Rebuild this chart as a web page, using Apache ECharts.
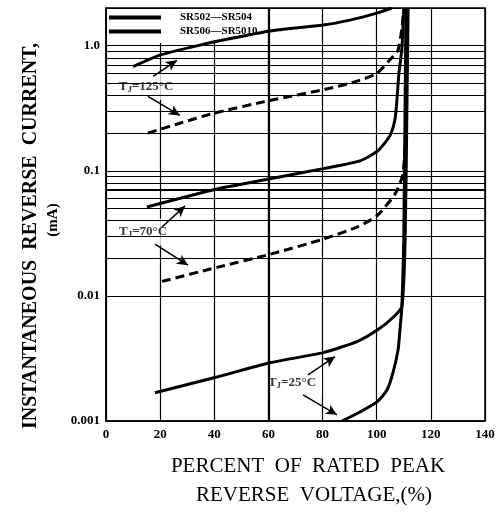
<!DOCTYPE html>
<html>
<head>
<meta charset="utf-8">
<script src="https://cdn.jsdelivr.net/npm/echarts@6/dist/echarts.min.js"></script>
<style>
html, body { margin: 0; padding: 0; background: #fff; }
#chart { width: 502px; height: 517px; }
</style>
</head>
<body>
<div id="chart"></div>
<script>
// reverse current vs. percent of rated reverse voltage (log scale)
var xTicks = [0, 20, 40, 60, 80, 100, 120, 140];
var yDecades = [0.001, 0.01, 0.1, 1];
var minorGrid = [0.002, 0.003, 0.004, 0.005, 0.006, 0.007, 0.008, 0.009,
	0.02, 0.03, 0.04, 0.05, 0.06, 0.07, 0.08, 0.09,
	0.2, 0.3, 0.4, 0.5, 0.6, 0.7, 0.8, 0.9];
var legendNames = ['SR502\u2014SR504', 'SR506\u2014SR5010'];

// Tj = 125 C
var solid125X = [10, 19.9, 34.7, 46.9, 60.6, 80.2, 90.1, 100, 105.5];
var solid125Y = [0.68, 0.84, 1.01, 1.15, 1.31, 1.46, 1.6, 1.82, 2.0];
var dash125X = [15.5, 27.3, 39.5, 60.6, 82.7, 92.7, 100, 106, 107.9, 109.3, 110];
var dash125Y = [0.2, 0.24, 0.287, 0.365, 0.456, 0.52, 0.6, 0.82, 0.92, 1.38, 2.0];
// Tj = 70 C
var solid70X = [15.1, 41, 60.6, 80.2, 93.8, 100.5, 104.9, 106.8, 107.5, 108.2, 109.3, 110];
var solid70Y = [0.0514, 0.0716, 0.0863, 0.104, 0.12, 0.145, 0.191, 0.262, 0.378, 0.6, 0.95, 2.0];
var dash70X = [20.7, 41, 60.6, 80.2, 92.7, 100, 106.8, 109.7, 110.8, 111.2];
var dash70Y = [0.01306, 0.0169, 0.0215, 0.0284, 0.0355, 0.0435, 0.0654, 0.0946, 0.262, 2.0];
// Tj = 25 C
var solid25X = [18.1, 41, 60.6, 80.2, 92.7, 100.5, 106, 109.3, 110.5, 111.2, 111.6];
var solid25Y = [0.00168, 0.00225, 0.00292, 0.00352, 0.00431, 0.00538, 0.00672, 0.00824, 0.0284, 0.378, 2.0];
var low25X = [87.2, 93.8, 100.1, 103.8, 106, 107.9, 108.6, 109.3, 110, 110.8];
var low25Y = [0.001, 0.00118, 0.00142, 0.00177, 0.00243, 0.00372, 0.00538, 0.00824, 0.0284, 2.0];

// annotation texts and arrows (data units)
var noteTemps = ['125', '70', '25'];
var noteX = [14.8, 13.7, 68.7];
var noteY = [0.473, 0.0324, 0.00202];
var arrows = [
	[17.4, 0.569, 26.2, 0.764],
	[15.5, 0.393, 27.3, 0.277],
	[20.7, 0.0355, 29.2, 0.0524],
	[18.1, 0.0259, 30.3, 0.0176],
	[74.6, 0.00234, 84.6, 0.00327],
	[72.8, 0.00162, 85.3, 0.00112]
];

function zip(xs, ys) {
	var res = [];
	for (var i = 0; i < xs.length; i++) res.push([xs[i], ys[i]]);
	return res;
}

function curve(name, xs, ys, dashed) {
	return {
		name: name,
		type: 'line',
		z: 6,
		data: zip(xs, ys),
		showSymbol: false,
		smooth: 0.2,
		color: '#000',
		itemStyle: { color: '#000' },
		lineStyle: { color: '#000', width: 3, type: dashed ? [9, 5] : 'solid' },
		silent: true
	};
}

var serif = '"Liberation Serif", "DejaVu Serif", serif';

var chart = echarts.init(document.getElementById('chart'));

chart.setOption({
	animation: false,
	backgroundColor: '#fff',
	grid: {
		left: 106, right: 17, top: 8, bottom: 96,
		show: true, borderColor: '#000', borderWidth: 1.5
	},
	legend: {
		data: legendNames,
		orient: 'vertical',
		left: 107, top: 9,
		z: 4,
		icon: 'rect',
		itemWidth: 52, itemHeight: 4,
		itemGap: 3,
		backgroundColor: '#fff',
		padding: [3, 10, 6, 2],
		itemStyle: { color: '#000', borderWidth: 0 },
		textStyle: { fontFamily: serif, fontWeight: 'bold', fontSize: 11, color: '#000', padding: [0, 0, 0, 14] }
	},
	xAxis: {
		type: 'value',
		min: xTicks[0], max: xTicks[xTicks.length - 1], interval: 20,
		axisLine: { lineStyle: { color: '#000', width: 1.5 } },
		axisTick: { show: false },
		axisLabel: { color: '#000', fontFamily: serif, fontWeight: 'bold', fontSize: 13, margin: 7 },
		splitLine: { show: true, lineStyle: { color: '#000', width: 1.2 } }
	},
	yAxis: {
		type: 'log', logBase: 10,
		min: yDecades[0], max: 2,
		axisLine: { show: true, lineStyle: { color: '#000', width: 1.5 } },
		axisTick: { show: false },
		axisLabel: {
			color: '#000', fontFamily: serif, fontWeight: 'bold', fontSize: 13, margin: 6,
			formatter: function (v) {
				for (var i = 0; i < yDecades.length; i++) {
					if (Math.abs(v - yDecades[i]) < yDecades[i] * 1e-6) return i === 3 ? '1.0' : String(yDecades[i]);
				}
				return '';
			}
		},
		splitLine: { show: true, lineStyle: { color: '#000', width: 1.2 } }
	},
	graphic: [
		{ type: 'text', x: 31, y: 236, rotation: Math.PI / 2,
			style: { text: 'INSTANTANEOUS  REVERSE  CURRENT,', font: 'bold 20px ' + serif, fill: '#000', align: 'center', verticalAlign: 'middle' } },
		{ type: 'text', x: 53, y: 220, rotation: Math.PI / 2,
			style: { text: '(mA)', font: 'bold 15px ' + serif, fill: '#000', align: 'center', verticalAlign: 'middle' } },
		{ type: 'text', x: 308, y: 466,
			style: { text: 'PERCENT  OF  RATED  PEAK', font: '21px ' + serif, fill: '#000', align: 'center', verticalAlign: 'middle' } },
		{ type: 'text', x: 314, y: 495,
			style: { text: 'REVERSE  VOLTAGE,(%)', font: '21px ' + serif, fill: '#000', align: 'center', verticalAlign: 'middle' } }
	],
	series: [
		{
			// minor log grid lines
			type: 'line', z: 1, silent: true,
			data: [],
			markLine: {
				silent: true,
				symbol: ['none', 'none'],
				label: { show: false },
				lineStyle: { color: '#000', width: 1.2, type: 'solid' },
				data: minorGrid.map(function (v) {
					return { yAxis: v, lineStyle: { width: (v === 0.003 || v === 0.07) ? 2.2 : 1.2 } };
				}).concat([{ xAxis: 60, lineStyle: { width: 2.2 } }])
			}
		},
		{
			// Tj labels with arrows
			type: 'scatter', z: 2, silent: true,
			symbolSize: 0,
			data: noteTemps.map(function (t, i) { return { name: t, value: [noteX[i], noteY[i]] }; }),
			label: {
				show: true, position: 'inside',
				backgroundColor: '#fff', padding: [6, 6],
				color: '#000', fontFamily: serif, fontWeight: 'bold', fontSize: 13,
				formatter: function (p) { return 'T{s|J}=' + p.name + '\u00b0C'; },
				rich: { s: { fontFamily: serif, fontWeight: 'bold', fontSize: 9, padding: [6, 0, 0, 0], color: '#000' } }
			},
			markLine: {
				silent: true,
				symbol: ['none', 'arrow'],
				symbolSize: [8, 11],
				label: { show: false },
				lineStyle: { color: '#000', width: 1.5, type: 'solid' },
				data: arrows.map(function (a) {
					return [{ coord: [a[0], a[1]] }, { coord: [a[2], a[3]] }];
				})
			}
		},
		curve(legendNames[0], solid125X, solid125Y, false),
		curve(legendNames[1], dash125X, dash125Y, true),
		curve(legendNames[0], solid70X, solid70Y, false),
		curve(legendNames[1], dash70X, dash70Y, true),
		curve(legendNames[0], solid25X, solid25Y, false),
		curve(legendNames[1], low25X, low25Y, false)
	]
});
</script>
</body>
</html>
